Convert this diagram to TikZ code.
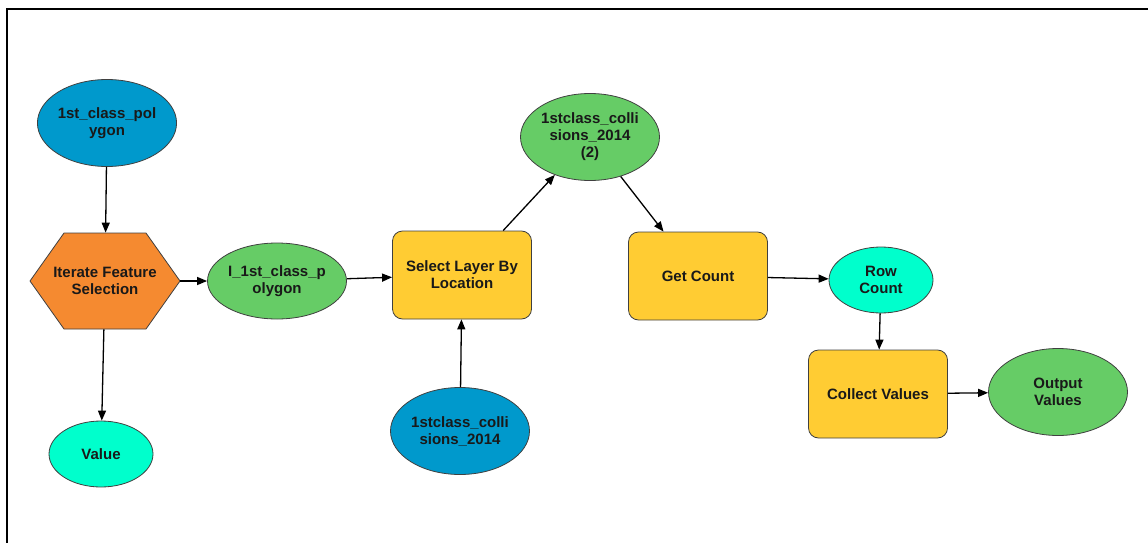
\documentclass[tikz,border=0pt]{standalone}
\usepackage{fontspec}
\setmainfont{Liberation Sans}
\usetikzlibrary{shapes.geometric,arrows.meta}

\definecolor{inblue}{RGB}{0,153,204}
\definecolor{outgreen}{RGB}{102,204,102}
\definecolor{valcyan}{RGB}{0,255,204}
\definecolor{toolyellow}{RGB}{255,204,51}
\definecolor{iterorange}{RGB}{245,138,48}

\tikzset{
  txt/.style={font=\fontsize{15}{17}\selectfont\bfseries, align=center, text=black!90, draw=black!75, line width=0.8pt, inner sep=0pt},
  datain/.style={txt, ellipse, fill=inblue, minimum width=139pt, minimum height=87pt},
  dataout/.style={txt, ellipse, fill=outgreen, minimum width=139pt, minimum height=87pt},
  datamid/.style={txt, ellipse, fill=outgreen, minimum width=139pt, minimum height=76pt},
  varval/.style={txt, ellipse, fill=valcyan, minimum width=104pt, minimum height=66pt},
  toolbox/.style={txt, rectangle, rounded corners=10pt, fill=toolyellow, minimum width=139pt, minimum height=88pt},
  iterbox/.style={txt, draw=none, rectangle, minimum width=150pt, minimum height=96pt},
  iterhex/.style={draw=black!75, line width=0.8pt, fill=iterorange},
  flow/.style={line width=1.3pt, -{Triangle[length=10pt,width=8pt]}}
}

\begin{document}
\begin{tikzpicture}[x=1pt, y=-1pt]

    \useasboundingbox (0,0) rectangle (1148,543);

    % Frame (top and left edges of the window)
    \draw[line width=2pt] (7,543) -- (7,9) -- (1148,9);

    % Inputs and iterator
    \node[datain] (poly) at (107,123) {1st\_class\_pol\\ygon};
    \draw[iterhex, shift={(105,281)}] (-75,0) -- (-41,-48) -- (41,-48) -- (75,0) -- (41,48) -- (-41,48) -- cycle; % hexagon outline
    \node[iterbox] (iter) at (105,281) {Iterate Feature\\Selection};
    \node[varval] (val) at (101,454) {Value};
    \node[datamid] (lpoly) at (277,281) {I\_1st\_class\_p\\olygon};

    % Selection
    \node[toolbox] (select) at (462,275) {Select Layer By\\Location};
    \node[datain] (coll) at (460,431) {1stclass\_colli\\sions\_2014};
    \node[dataout] (coll2) at (590,137) {1stclass\_colli\\sions\_2014\\(2)};

    % Counting and collecting
    \node[toolbox] (count) at (698,276) {Get Count};
    \node[varval] (rows) at (881,280) {Row\\Count};
    \node[toolbox] (collect) at (878,394) {Collect Values};
    \node[dataout] (outv) at (1058,392) {Output\\Values};

    % Connections
    \draw[flow] (poly) -- (iter);
    \draw[flow] (iter) -- (val);
    \draw[flow] (iter) -- (lpoly);
    \draw[flow] (lpoly) -- (select);
    \draw[flow] (coll) -- (select);
    \draw[flow] (select) -- (coll2);
    \draw[flow] (coll2) -- (count);
    \draw[flow] (count) -- (rows);
    \draw[flow] (rows) -- (collect);
    \draw[flow] (collect) -- (outv);

\end{tikzpicture}
\end{document}
